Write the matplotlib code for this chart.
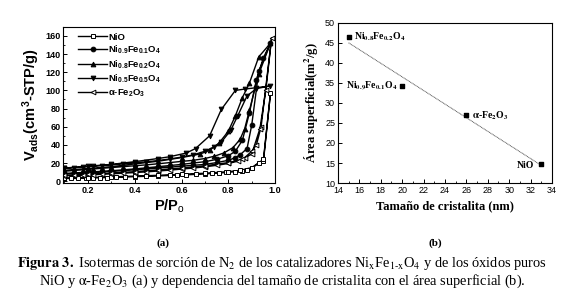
import matplotlib
matplotlib.use('Agg')
import numpy as np
import matplotlib.pyplot as plt
from matplotlib.ticker import MultipleLocator

plt.rcParams['mathtext.default'] = 'bf'
plt.rcParams['mathtext.fontset'] = 'custom'
plt.rcParams['mathtext.rm'] = 'Liberation Sans'
plt.rcParams['mathtext.bf'] = 'Liberation Sans:bold'

# ---- (a) N2 sorption isotherms: adsorption + desorption branch per sample ----
nio_p = [0.10, 0.13, 0.16, 0.19, 0.22, 0.25, 0.28, 0.32, 0.36, 0.40, 0.45, 0.50,
         0.55, 0.58, 0.62, 0.66, 0.70, 0.73, 0.76, 0.79, 0.83, 0.86, 0.88, 0.90,
         0.93, 0.95, 0.98, 0.95, 0.90, 0.85, 0.80, 0.70, 0.60, 0.50, 0.40, 0.30, 0.20, 0.10]
nio_v = [3, 3, 3.2, 3.4, 3.6, 3.8, 4, 4.3, 4.6, 5, 5.4, 5.8,
         6.3, 6.6, 7, 7.5, 8, 8.5, 9, 9.6, 10.5, 11.5, 12.5, 14,
         20, 22, 97, 24, 15, 12, 10.5, 8.8, 7.6, 6.5, 5.6, 4.8, 4, 3.4]

ni09_p = [0.10, 0.14, 0.18, 0.22, 0.26, 0.30, 0.35, 0.40, 0.45, 0.50, 0.55, 0.60,
          0.65, 0.70, 0.75, 0.80, 0.83, 0.85, 0.88, 0.90, 0.93, 0.98,
          0.95, 0.92, 0.89, 0.86, 0.83, 0.80, 0.75, 0.70, 0.60, 0.50, 0.40, 0.30, 0.20, 0.10]
ni09_v = [8, 8.5, 9, 9.6, 10.2, 10.8, 11.6, 12.5, 13.5, 14.5, 15.5, 16.5,
          17.5, 18.5, 20.5, 23, 26, 29, 36, 62, 121, 152,
          136, 112, 75, 45, 33, 28, 24, 21.5, 18.5, 16, 13.5, 11.5, 10, 8.5]

ni08_p = [0.10, 0.14, 0.18, 0.22, 0.26, 0.30, 0.35, 0.40, 0.45, 0.50, 0.55, 0.60,
          0.65, 0.70, 0.74, 0.78, 0.82, 0.85, 0.87, 0.89, 0.93, 0.98,
          0.93, 0.89, 0.86, 0.83, 0.80, 0.76, 0.72, 0.68, 0.60, 0.50, 0.40, 0.30, 0.20, 0.10]
ni08_v = [11, 11.8, 12.6, 13.4, 14.2, 15, 16, 17, 18, 19.2, 20.5, 21.8,
          23, 25, 27.5, 31, 37, 46, 58, 78, 118, 152,
          137, 108, 92, 72, 55, 42, 34, 30, 26, 22, 19, 16, 14, 12]

ni05_p = [0.10, 0.14, 0.18, 0.22, 0.26, 0.30, 0.35, 0.40, 0.45, 0.50, 0.55, 0.60,
          0.65, 0.70, 0.74, 0.77, 0.81, 0.84, 0.88, 0.92, 0.98,
          0.92, 0.87, 0.83, 0.77, 0.72, 0.66, 0.62, 0.55, 0.50, 0.40, 0.30, 0.20, 0.10]
ni05_v = [14, 14.8, 15.6, 16.4, 17.2, 18, 19, 20, 21.3, 22.8, 24.5, 26.5,
          29, 33, 38, 43, 56, 72, 94, 102, 105,
          103, 101.5, 100, 79, 50, 36, 31, 27, 25, 21.5, 18.5, 16.5, 14.5]

fe2o3_p = [0.10, 0.14, 0.18, 0.22, 0.26, 0.30, 0.35, 0.40, 0.45, 0.50, 0.55, 0.60,
           0.65, 0.70, 0.75, 0.80, 0.84, 0.87, 0.90, 0.92, 0.94, 0.985,
           0.96, 0.935, 0.90, 0.86, 0.80, 0.70, 0.60, 0.50, 0.40, 0.30, 0.20, 0.10]
fe2o3_v = [6, 6.3, 6.7, 7.1, 7.6, 8.1, 8.8, 9.5, 10.3, 11.2, 12.2, 13.3,
           14.5, 15.8, 17.5, 19.5, 22, 26, 33, 40, 60, 158,
           100, 58, 30, 24, 20.5, 17, 14.5, 12.5, 10.5, 9, 7.5, 6.5]

# ---- (b) surface area vs crystallite size ----
size_nm = [15, 20, 26, 33]
area_m2g = [46.5, 34.2, 26.9, 14.7]
area_lbls = [r'Ni$_{0.8}$Fe$_{0.2}$O$_4$', r'Ni$_{0.9}$Fe$_{0.1}$O$_4$',
             r'$\alpha$-Fe$_2$O$_3$', 'NiO']

fig = plt.figure(figsize=(5.65, 3.02), dpi=100)

# ---------------- panel (a) ----------------
ax1 = fig.add_axes([0.112, 0.394, 0.375, 0.517])
series = [
    (nio_p, nio_v, 's', 'white', 'NiO'),
    (ni09_p, ni09_v, 'o', 'black', r'Ni$_{0.9}$Fe$_{0.1}$O$_4$'),
    (ni08_p, ni08_v, '^', 'black', r'Ni$_{0.8}$Fe$_{0.2}$O$_4$'),
    (ni05_p, ni05_v, 'v', 'black', r'Ni$_{0.5}$Fe$_{0.5}$O$_4$'),
    (fe2o3_p, fe2o3_v, '<', 'white', r'$\alpha$-Fe$_2$O$_3$'),
]
for p, v, mk, fc, lab in series:
    ax1.plot(p, v, color='black', marker=mk, markerfacecolor=fc,
             markeredgecolor='black', markersize=3.4, markeredgewidth=0.7,
             linewidth=1.0, label=lab)

ax1.set_xlim(0.095, 1.0)
ax1.set_ylim(-2, 170)
ax1.xaxis.set_minor_locator(MultipleLocator(0.1))
ax1.yaxis.set_major_locator(MultipleLocator(20))
ax1.yaxis.set_minor_locator(MultipleLocator(10))
ax1.set_xticks([0.2, 0.4, 0.6, 0.8, 1.0])
ax1.tick_params(direction='in', length=3, width=0.7, labelsize=6.5, pad=2)
ax1.tick_params(which='minor', direction='in', length=1.5, width=0.6)
for lbl in ax1.get_xticklabels() + ax1.get_yticklabels():
    lbl.set_fontweight('bold')
    lbl.set_fontfamily('Liberation Sans')
for s in ax1.spines.values():
    s.set_linewidth(0.8)
ax1.set_xlabel(r'P/P$_\mathrm{o}$', fontsize=10.5, fontweight='bold', family='Liberation Sans', labelpad=2)
ax1.set_ylabel(r'V$_{ads}$(cm$^3$-STP/g)', fontsize=10.5, fontweight='bold', family='Liberation Sans', labelpad=2)
ax1.legend(loc='upper left', bbox_to_anchor=(0.045, 1.0), frameon=False, handlelength=3.0,
           labelspacing=0.22, borderaxespad=0.2, borderpad=0.4, handletextpad=0.15,
           prop={'family': 'Liberation Sans', 'weight': 'bold', 'size': 6.8})

# ---------------- panel (b) ----------------
ax2 = fig.add_axes([0.598, 0.394, 0.379, 0.530])
ax2.scatter(size_nm, area_m2g, marker='s', s=12, color='black', zorder=3)
fit = np.polyfit(size_nm, area_m2g, 1)
xx = np.array([min(size_nm), max(size_nm)])
ax2.plot(xx, np.polyval(fit, xx), color='#555555', linewidth=0.7, linestyle=(0, (1, 0.6)))
ax2.set_xlim(14, 34)
ax2.set_ylim(10, 50)
ax2.xaxis.set_major_locator(MultipleLocator(2))
ax2.xaxis.set_minor_locator(MultipleLocator(1))
ax2.yaxis.set_major_locator(MultipleLocator(5))
ax2.tick_params(direction='in', length=3, width=0.7, labelsize=6.5, pad=2)
ax2.tick_params(which='minor', direction='in', length=1.5, width=0.6)
for lbl in ax2.get_xticklabels() + ax2.get_yticklabels():
    lbl.set_fontfamily('Liberation Sans')
for s in ax2.spines.values():
    s.set_linewidth(0.8)

sfont = dict(family='Liberation Serif', fontweight='bold', fontsize=7, math_fontfamily='stix')
ax2.text(size_nm[0] + 0.55, area_m2g[0], area_lbls[0], ha='left', va='center', **sfont)
ax2.text(size_nm[1] - 0.45, area_m2g[1], area_lbls[1], ha='right', va='center', **sfont)
ax2.text(size_nm[2] + 0.55, area_m2g[2] - 0.2, area_lbls[2], ha='left', va='center', **sfont)
ax2.text(size_nm[3] - 0.65, area_m2g[3] - 0.3, area_lbls[3], ha='right', va='center', **sfont)

ax2.set_xlabel('Tamaño de cristalita (nm)', fontsize=9, fontweight='bold',
               family='Liberation Serif', labelpad=4)
ax2.set_ylabel(r'Área superficial(m$^2$/g)', fontsize=9, fontweight='bold',
               family='Liberation Serif', math_fontfamily='stix', labelpad=3)

# ---------------- captions ----------------
cfont = dict(family='Liberation Serif', math_fontfamily='stix', ha='center', va='center')
fig.text(0.289, 0.195, '(a)', fontsize=8, fontweight='bold', **cfont)
fig.text(0.770, 0.195, '(b)', fontsize=8, fontweight='bold', **cfont)
fig.text(0.5, 0.128,
         r'$\mathbf{Figura\ 3.}$ Isotermas de sorción de N$_\mathrm{2}$ de los catalizadores '
         r'Ni$_\mathrm{x}$Fe$_\mathrm{1‐x}$O$_\mathrm{4}$ y de los óxidos puros',
         fontsize=10.4, **cfont)
fig.text(0.5, 0.068,
         r'NiO y $\mathrm{\alpha}$-Fe$_\mathrm{2}$O$_\mathrm{3}$ (a) y dependencia del tamaño '
         r'de cristalita con el área superficial (b).',
         fontsize=10.4, **cfont)

fig.savefig('out.png', dpi=100)
